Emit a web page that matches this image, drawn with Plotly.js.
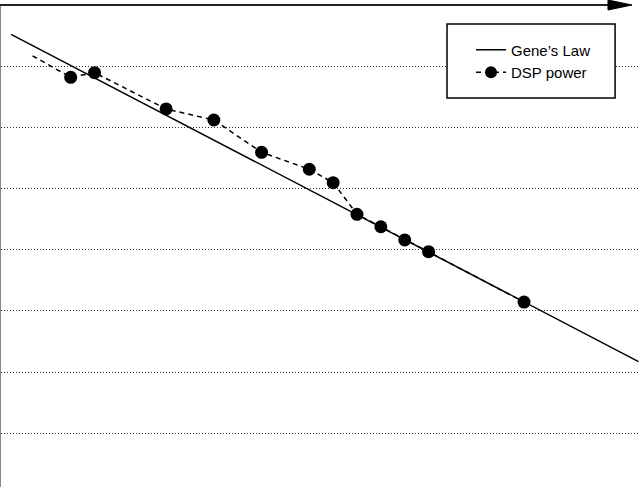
<!DOCTYPE html>
<html>
<head>
<meta charset="utf-8">
<script src="https://cdn.plot.ly/plotly-3.0.1.min.js"></script>
<style>html,body{margin:0;padding:0;background:#fff;}#chart{width:640px;height:488px;}</style>
</head>
<body>
<div id="chart"></div>
<script>
// Gene's Law trend line (year, power)
const geneYears = [1979.5, 2005.8];
const geneValues = [332, 0.00149];

// DSP power data (first point is the dashed lead-in without a marker)
const dspYears = [1980.4, 1982, 1983, 1986, 1988, 1990, 1992, 1993, 1994, 1995, 1996, 1997, 2001];
const dspValues = [148, 65.9, 78.3, 20.0, 13.2, 3.92, 2.07, 1.25, 0.38, 0.238, 0.145, 0.093, 0.014];
const dspMarkerSizes = [0, 13, 13, 13, 13, 13, 13, 13, 13, 13, 13, 13, 13];

const traces = [
  {
    x: geneYears, y: geneValues, name: "Gene\u2019s Law", type: 'scatter', mode: 'lines',
    line: {color: '#000', width: 1.5}
  },
  {
    x: dspYears, y: dspValues, name: 'DSP power', type: 'scatter', mode: 'lines+markers',
    line: {color: '#000', width: 1.5, dash: '5px,4px'},
    marker: {color: '#000', size: dspMarkerSizes, opacity: 1, line: {width: 0, color: '#000'}}
  }
];

const layout = {
  width: 640, height: 488,
  margin: {l: 1, r: 0, t: 5, b: 1},
  paper_bgcolor: '#fff', plot_bgcolor: '#fff',
  font: {family: 'Liberation Sans, Arial, sans-serif', size: 15, color: '#000'},
  showlegend: true,
  legend: {
    x: 0.698, y: 0.941, xanchor: 'left', yanchor: 'top',
    borderwidth: 0, bgcolor: 'rgba(0,0,0,0)',
    font: {size: 15}, tracegroupgap: 0,
    indentation: 24
  },
  xaxis: {
    range: [1979.079, 2005.861],
    showgrid: false, zeroline: false, showline: false,
    showticklabels: false, ticks: ''
  },
  yaxis: {
    type: 'log', range: [-4.876, 3], dtick: 1,
    showgrid: true, gridcolor: '#333', gridwidth: 1, griddash: '1px,2px',
    zeroline: false, showline: true, linecolor: '#888', linewidth: 1.5, mirror: false,
    showticklabels: false, ticks: ''
  },
  shapes: [
    {type: 'line', xref: 'paper', yref: 'paper', x0: -0.002, x1: 0.955, y0: 1, y1: 1,
     line: {color: '#222', width: 2}},
    {type: 'path', xref: 'paper', yref: 'paper',
     path: 'M 0.9499 1.0104 L 0.9875 1 L 0.9499 0.9896 Z',
     fillcolor: '#000', line: {color: '#000', width: 1}},
    {type: 'rect', xref: 'paper', yref: 'paper', x0: 0.698, x1: 0.961, y0: 0.807, y1: 0.9606,
     fillcolor: '#fff', line: {color: '#000', width: 1.5}, layer: 'above'}
  ]
};

Plotly.newPlot('chart', traces, layout, {staticPlot: true});
</script>
</body>
</html>
